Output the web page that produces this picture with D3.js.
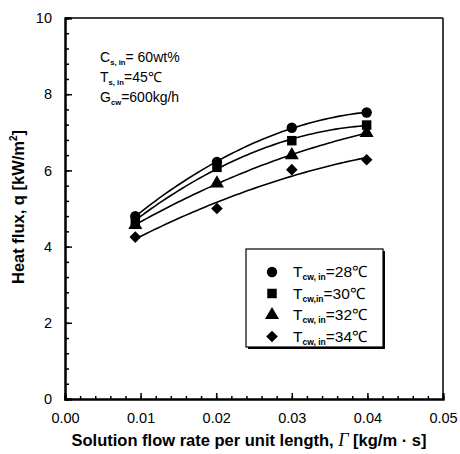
<!DOCTYPE html>
<html><head><meta charset="utf-8">
<script src="https://cdn.jsdelivr.net/npm/d3@7"></script>
<style>
body{margin:0;background:#fff;}
text{font-family:"Liberation Sans",Arial,sans-serif;fill:#000;}
</style></head><body>
<svg id="c" width="460" height="454"></svg>
<script>
const xValues = [0.0093, 0.0201, 0.0300, 0.0399];
const series28 = [4.80, 6.22, 7.12, 7.52];
const series30 = [4.68, 6.08, 6.78, 7.19];
const series32 = [4.57, 5.66, 6.40, 6.98];
const series34 = [4.25, 5.00, 6.02, 6.28];
const seriesLabels = ["=28℃", "=30℃", "=32℃", "=34℃"];
const seriesSubs = ["cw, in", "cw,in", "cw, in", "cw, in"];
const xTicks = [0, 0.01, 0.02, 0.03, 0.04, 0.05];
const yTicks = [0, 2, 4, 6, 8, 10];

const svg = d3.select("#c");
const L = 65, R = 443, T = 18, B = 399;
const x = d3.scaleLinear().domain([0, 0.05]).range([L, R]);
const y = d3.scaleLinear().domain([0, 10]).range([B, T]);

// frame
svg.append("line").attr("x1", L).attr("x2", R).attr("y1", T).attr("y2", T).attr("stroke", "#000").attr("stroke-width", 1.5);
svg.append("line").attr("x1", R).attr("x2", R).attr("y1", T).attr("y2", B).attr("stroke", "#000").attr("stroke-width", 1.5);

// axes
const xMinor = d3.range(0, 0.0501, 0.002);
const yMinor = d3.range(0, 10.01, 0.4);
const gx = svg.append("g").attr("transform", `translate(0,${B})`);
gx.call(d3.axisBottom(x).tickValues(xMinor).tickSize(-3).tickFormat(""));
gx.append("g").call(d3.axisBottom(x).tickValues(xTicks).tickSize(-6).tickPadding(14).tickFormat(d3.format(".2f")));
gx.selectAll("path.domain").attr("stroke-width", 2);
gx.selectAll("text").attr("font-size", 14.5).attr("fill", "#000");
const gy = svg.append("g").attr("transform", `translate(${L},0)`);
gy.call(d3.axisLeft(y).tickValues(yMinor).tickSize(-4).tickFormat(""));
gy.append("g").call(d3.axisLeft(y).tickValues(yTicks).tickSize(-7).tickPadding(13).tickFormat(d3.format("d")));
gy.selectAll("path.domain").attr("stroke-width", 2);
gy.selectAll("text").attr("font-size", 14.5).attr("fill", "#000");
svg.selectAll(".tick line").attr("stroke-width", 1.5);

// quadratic least-squares fit
function fit(xs, ys) {
  let S = [[0,0,0],[0,0,0],[0,0,0]], v = [0,0,0];
  xs.forEach((xi, i) => {
    const p = [1, xi, xi*xi];
    for (let a = 0; a < 3; a++) { v[a] += p[a]*ys[i]; for (let b = 0; b < 3; b++) S[a][b] += p[a]*p[b]; }
  });
  const M = S.map((r, i) => r.concat([v[i]]));
  for (let i = 0; i < 3; i++) {
    for (let k = i+1; k < 3; k++) {
      const f = M[k][i]/M[i][i];
      for (let j = i; j < 4; j++) M[k][j] -= f*M[i][j];
    }
  }
  const c = [0,0,0];
  for (let i = 2; i >= 0; i--) {
    let s = M[i][3];
    for (let j = i+1; j < 3; j++) s -= M[i][j]*c[j];
    c[i] = s/M[i][i];
  }
  return xx => c[0] + c[1]*xx + c[2]*xx*xx;
}

const allSeries = [series28, series30, series32, series34];
const symbols = [d3.symbolCircle, d3.symbolSquare, d3.symbolTriangle, d3.symbolSquare];
const sizes = [85, 90, 85, 68];
const rots = [0, 0, 0, 45];
const line = d3.line().x(d => x(d[0])).y(d => y(d[1]));
allSeries.forEach((s) => {
  const f = fit(xValues, s);
  const pts = d3.range(0, 61).map(i => { const xx = xValues[0] + (xValues[3]-xValues[0])*i/60; return [xx, f(xx)]; });
  svg.append("path").attr("d", line(pts)).attr("fill", "none").attr("stroke", "#000").attr("stroke-width", 1.6);
});
allSeries.forEach((s, k) => {
  svg.append("g").selectAll("path").data(s).join("path")
    .attr("transform", (d, i) => `translate(${x(xValues[i])},${y(d)}) rotate(${rots[k]})`)
    .attr("d", d3.symbol().type(symbols[k]).size(sizes[k]))
    .attr("fill", "#000");
});

// annotation
function sub(x0, y0, main, subs, rest, fs) {
  const tx = svg.append("text").attr("x", x0).attr("y", y0).attr("font-size", fs);
  tx.append("tspan").text(main);
  tx.append("tspan").attr("dy", 3).attr("font-size", fs*0.55).attr("font-weight", "bold").text(subs);
  tx.append("tspan").attr("dy", -3).text(rest);
  return tx;
}
sub(100, 62, "C", "s, in", "= 60wt%", 14);
sub(100, 82, "T", "s, in", "=45℃", 14);
sub(100, 102, "G", "cw", "=600kg/h", 14);

// legend
svg.append("rect").attr("x", 248).attr("y", 251).attr("width", 137).attr("height", 98).attr("fill", "#000");
svg.append("rect").attr("x", 246).attr("y", 249).attr("width", 137).attr("height", 98).attr("fill", "#fff").attr("stroke", "#000").attr("stroke-width", 1.2);
const legRows = [272, 293.5, 315, 336.5];
legRows.forEach((ry, k) => {
  svg.append("path").attr("transform", `translate(272,${ry}) rotate(${rots[k]})`).attr("d", d3.symbol().type(symbols[k]).size(sizes[k])).attr("fill", "#000");
  sub(293, ry + 5, "T", seriesSubs[k], seriesLabels[k], 15.5);
});

// axis titles
const xt = svg.append("text").attr("x", 249).attr("y", 446).attr("text-anchor", "middle").attr("font-size", 16.5).attr("font-weight", "bold");
xt.append("tspan").text("Solution flow rate per unit length, ");
xt.append("tspan").attr("font-family", "Liberation Serif,serif").attr("font-style", "italic").attr("font-weight", "normal").attr("font-size", 18).text("Γ");
xt.append("tspan").text(" [kg/m · s]");

const yt = svg.append("text").attr("transform", "translate(24,207) rotate(-90)").attr("text-anchor", "middle").attr("font-size", 16.5).attr("font-weight", "bold");
yt.append("tspan").text("Heat flux, q [kW/m");
yt.append("tspan").attr("dy", -7).attr("font-size", 10).text("2");
yt.append("tspan").attr("dy", 7).text("]");
</script>
</body></html>
